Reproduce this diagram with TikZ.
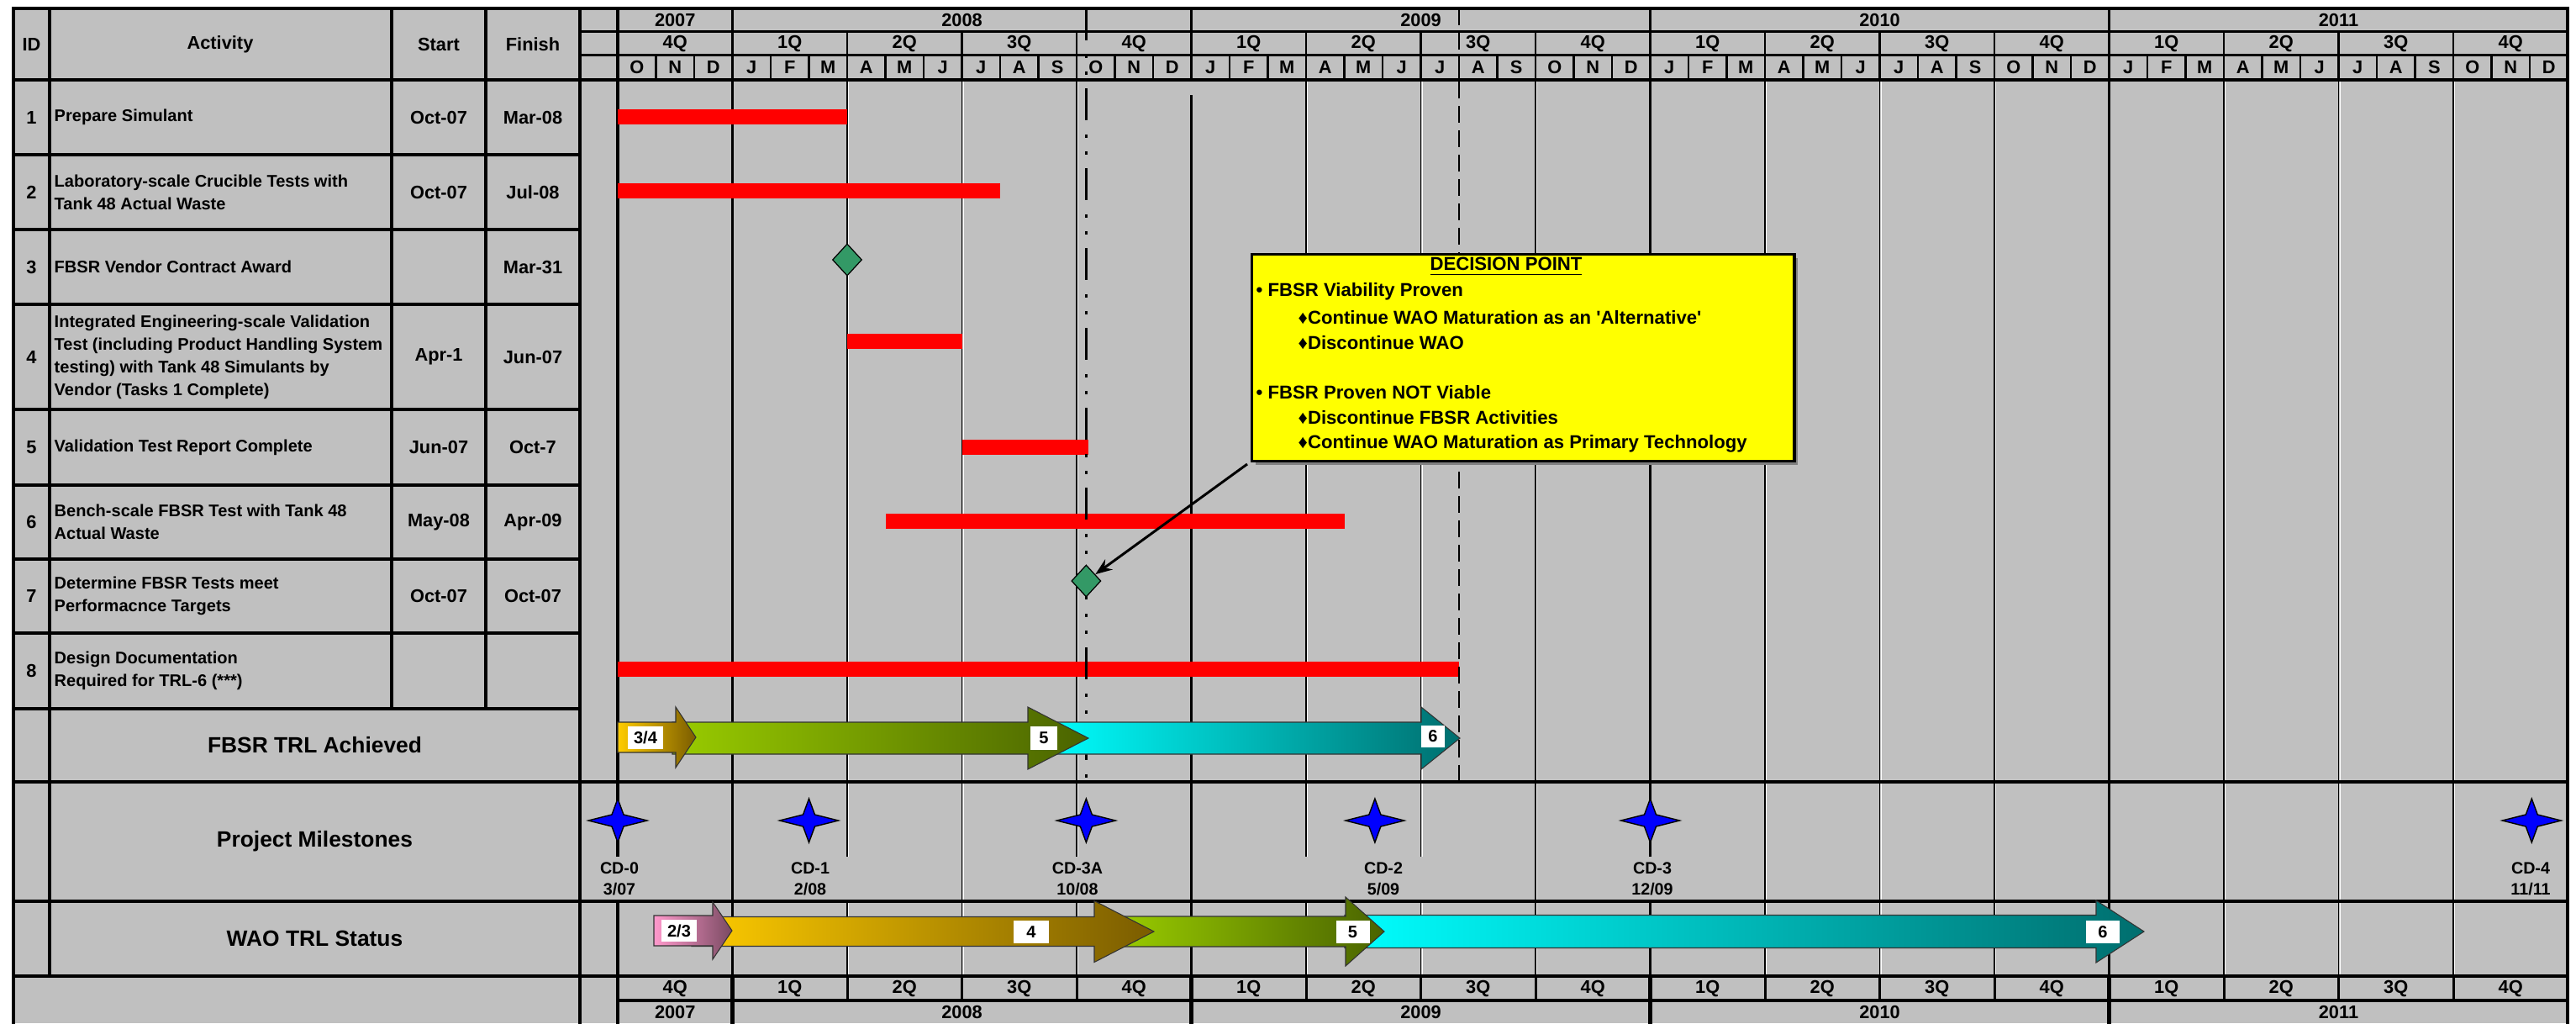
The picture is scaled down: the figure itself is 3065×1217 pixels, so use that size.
\documentclass[tikz,border=0pt]{standalone}
\usepackage{fontspec}
\setmainfont{Liberation Sans}[Ligatures=TeXOff]
\usetikzlibrary{shapes.geometric,arrows.meta}
\definecolor{chartgray}{HTML}{C0C0C0}
\definecolor{barred}{HTML}{FF0000}
\definecolor{msgreen}{HTML}{339966}
\definecolor{starblue}{HTML}{0000FF}
\definecolor{dpyellow}{HTML}{FFFF00}
\definecolor{dpshadow}{HTML}{808080}
\definecolor{trlgold}{HTML}{FFCC00}
\definecolor{trlbrown}{HTML}{7A5C00}
\definecolor{trlgreen}{HTML}{99CC00}
\definecolor{trlolive}{HTML}{4A6300}
\definecolor{trlcyan}{HTML}{00FFFF}
\definecolor{trlteal}{HTML}{006E6E}
\definecolor{trlpink}{HTML}{FF99CC}
\definecolor{trlmauve}{HTML}{7A4A62}
\newcommand\ChartX{735}
\newcommand\MonW{45.5}
% #1 start, #2 head base, #3 tip, #4 centre, #5 half body, #6 half head
\newcommand\TrlArrow[8]{%
  \shade[trlshape, left color=#7, right color=#8]
    (#1,#4-#5) -- (#2,#4-#5) -- (#2,#4-#6) -- (#3,#4)
    -- (#2,#4+#6) -- (#2,#4+#5) -- (#1,#4+#5) -- cycle;
}
\tikzset{
  heavy/.style={line width=1.15pt, line cap=rect},
  headline/.style={line width=0.9pt},
  yearline/.style={line width=0.85pt},
  monthline/.style={line width=0.65pt},
  qline/.style={line width=0.35pt},
  qglint/.style={white, line width=0.25pt},
  cell/.style={font=\fontsize{6.2}{7.5}\selectfont\bfseries, inner sep=0pt},
  activity/.style={font=\fontsize{5.7}{7.7}\selectfont\bfseries, align=left, anchor=west, inner sep=0pt},
  rowlabel/.style={font=\fontsize{7.5}{9}\selectfont\bfseries, inner sep=0pt},
  cdlabel/.style={font=\fontsize{5.6}{7.1}\selectfont\bfseries, align=center, fill=chartgray,
    minimum width=1.5cm, minimum height=0.53cm, inner sep=0pt},
  trllabel/.style={font=\fontsize{5.7}{7}\selectfont\bfseries, fill=white, inner sep=0pt,
    minimum width=0.41cm, minimum height=0.27cm},
  trlshape/.style={draw=black!80, line width=0.3pt},
  taskbar/.style={fill=barred},
  milestone/.style={shape=diamond, draw, fill=msgreen, line width=0.35pt, inner sep=0pt,
    minimum width=0.35cm, minimum height=0.38cm},
  dpline/.style={line width=1pt, dash pattern=on 0.38cm off 0.17cm on 0.04cm off 0.16cm on 0.04cm off 0.16cm},
  trlline/.style={line width=0.55pt, dash pattern=on 0.2cm off 0.09cm},
  decisionbox/.style={draw, fill=dpyellow, line width=0.9pt, inner sep=0pt},
  dtext/.style={font=\fontsize{6.3}{8.5}\selectfont\bfseries, anchor=west, inner sep=0pt},
  callarrow/.style={line width=0.85pt, -{Stealth[length=0.2cm,width=0.15cm]}},
  starline/.style={draw, fill=starblue, line width=0.4pt},
  milestar/.pic={
    \draw[starline] (-35,0) -- (-7,-7) -- (0,-26) -- (7,-7) -- (35,0) -- (7,7) -- (0,26) -- (-7,7) -- cycle;
  },
}

\begin{document}
\begin{tikzpicture}[x=0.01cm,y=-0.01cm]
\useasboundingbox (0,0) rectangle (3065,1217);
\fill[chartgray] (16,10) rectangle (3055,1217);

% chart grid
\foreach \k in {6,9,12,18,21,24,30,33,36,42,45,48}{
  \draw[qglint] ({\ChartX+\k*\MonW+1.8},95) -- ++(0,1066);
  \draw[qline] ({\ChartX+\k*\MonW},95) -- ++(0,1066);
}
\foreach \k in {3,27,39}
  \draw[yearline] ({\ChartX+\k*\MonW},95) -- ++(0,1066);
\draw[yearline] ({\ChartX+15*\MonW},113) -- ++(0,1048);
\foreach \x in {16,690,735,3055}
  \draw[heavy] (\x,10) -- (\x,1217);
\foreach \x in {466,578}
  \draw[heavy] (\x,10) -- (\x,843);
\draw[heavy] (59,10) -- (59,1161);

% milestones
\foreach \k/\n in {0/0, 5/1, 12.25/3a, 19.8/2, 27/3, 50.05/4}
  \pic (star-\n) at ({\ChartX+\k*\MonW},976) {milestar};
\node[cdlabel, minimum width=0.8cm] (cd0) at (737,1045.5) {CD-0\\3/07};
\node[cdlabel] (cd1) at (964,1045.5) {CD-1\\2/08};
\node[cdlabel] (cd3a) at (1282,1045.5) {CD-3A\\10/08};
\node[cdlabel, minimum width=2cm] (cd2) at (1646,1045.5) {CD-2\\5/09};
\node[cdlabel] (cd3) at (1966,1045.5) {CD-3\\12/09};
\node[cdlabel, minimum width=0.8cm] (cd4) at (3011,1045.5) {CD-4\\11/11};

% horizontal rules
\foreach \y in {184,273,362,487,577,665,753,843}
  \draw[heavy] (16,\y) -- (690,\y);
\foreach \y in {10,95,930,1072,1161}
  \draw[heavy] (16,\y) -- (3055,\y);
\draw[heavy] (735,1190) -- (3055,1190);
\foreach \y in {37.7,65.7}
  \draw[headline] (690,\y) -- (3055,\y);

% time scale separators
\foreach \k in {1,...,50}
  \draw[monthline] ({\ChartX+\k*\MonW},65.7) -- ++(0,29.3);
\foreach \k in {6,9,12,18,21,24,30,33,36,42,45,48}{
  \draw[monthline] ({\ChartX+\k*\MonW},37.7) -- ++(0,28);
  \draw[yearline] ({\ChartX+\k*\MonW},1161) -- ++(0,29);
}
\foreach \k in {3,15,27,39}{
  \draw[yearline] ({\ChartX+\k*\MonW},10) -- ++(0,85);
  \draw[heavy] ({\ChartX+\k*\MonW},1161) -- ++(0,56);
}

% table header
\node[cell] (h-id) at (37.5,52.5) {ID};
\node[cell] (h-act) at (262,52.5) {Activity};
\node[cell] (h-start) at (522,52.5) {Start};
\node[cell] (h-fin) at (634,52.5) {Finish};

% time scale labels
\node[cell] (yr-2007) at ({\ChartX+1.5*\MonW},24) {2007};
\node[cell] (yrb-2007) at ({\ChartX+1.5*\MonW},1204) {2007};
\node[cell] (q-2007) at ({\ChartX+1.5*\MonW},52) {4Q};
\node[cell] (qb-2007) at ({\ChartX+1.5*\MonW},1176) {4Q};
\foreach \m [count=\j from 0] in {O,N,D}
  \node[cell] (m-2007-\j) at ({\ChartX+(0.5+\j)*\MonW},80) {\m};
\foreach \yr [count=\i from 0] in {2008,2009,2010,2011}{
  \node[cell] (yr-\yr) at ({\ChartX+(9+12*\i)*\MonW},24) {\yr};
  \node[cell] (yrb-\yr) at ({\ChartX+(9+12*\i)*\MonW},1204) {\yr};
  \foreach \q in {1,...,4}{
    \node[cell] (q-\yr-\q) at ({\ChartX+(1.5+12*\i+3*\q)*\MonW},52) {\q Q};
    \node[cell] (qb-\yr-\q) at ({\ChartX+(1.5+12*\i+3*\q)*\MonW},1176) {\q Q};
  }
  \foreach \m [count=\j from 0] in {J,F,M,A,M,J,J,A,S,O,N,D}
    \node[cell] (m-\yr-\j) at ({\ChartX+(3.5+12*\i+\j)*\MonW},80) {\m};
}

% activities
\foreach \n/\y/\task/\st/\fin in {
  1/139.5/{Prepare Simulant}/Oct-07/Mar-08,
  2/228.5/{Laboratory-scale Crucible Tests with\\Tank 48 Actual Waste}/Oct-07/Jul-08,
  3/317.5/{FBSR Vendor Contract Award}/{}/Mar-31,
  4/424.5/{Integrated Engineering-scale Validation\\Test (including Product Handling System\\testing) with Tank 48 Simulants by\\Vendor (Tasks 1 Complete)}/Apr-1/Jun-07,
  5/532/{Validation Test Report Complete}/Jun-07/Oct-7,
  6/621/{Bench-scale FBSR Test with Tank 48\\Actual Waste}/May-08/Apr-09,
  7/709/{Determine FBSR Tests meet\\Performacnce Targets}/Oct-07/Oct-07,
  8/798/{Design Documentation\\Required for TRL-6 (***)}/{}/{}}{
  \node[cell] (id-\n) at (37.5,\y) {\n};
  \node[activity] (act-\n) at (64,\y) {\task};
  \node[cell] (st-\n) at (522,\y) {\st};
  \node[cell] (fin-\n) at (634,\y) {\fin};
}
\node[rowlabel] (fbsr-trl) at (374.5,886.5) {FBSR TRL Achieved};
\node[rowlabel] (proj-ms) at (374.5,1001) {Project Milestones};
\node[rowlabel] (wao-trl) at (374.5,1116.5) {WAO TRL Status};

% task bars
\foreach \a/\b/\y in {0/6/139, 0/10/227, 6/9/406, 9/12.3/532, 7/19/620, 0/22/796}
  \fill[taskbar] ({\ChartX+\a*\MonW},\y-9) rectangle ({\ChartX+\b*\MonW},\y+9);

\draw[dpline] ({\ChartX+12.25*\MonW},10) -- ++(0,920);
\draw[trlline] ({\ChartX+22*\MonW},10) -- ++(0,920);

\node[milestone] (ms3) at ({\ChartX+6*\MonW},309) {};
\node[milestone] (ms7) at ({\ChartX+12.25*\MonW},691) {};

% FBSR TRL
\TrlArrow{1240}{1691}{1737}{878}{19}{37}{trlcyan}{trlteal}
\TrlArrow{800}{1223}{1295}{878}{19}{37}{trlgreen}{trlolive}
\TrlArrow{735}{804}{828}{877}{18}{36}{trlgold}{trlbrown}
\node[trllabel] (fbsr-34) at (768,877) {3/4};
\node[trllabel, minimum width=0.32cm, minimum height=0.28cm] (fbsr-5) at (1242,878) {5};
\node[trllabel, minimum width=0.28cm, minimum height=0.26cm] (fbsr-6) at (1705,876) {6};

% WAO TRL
\TrlArrow{1600}{2494}{2551}{1108}{19.5}{37}{trlcyan}{trlteal}
\TrlArrow{1330}{1601}{1647}{1108}{18}{41}{trlgreen}{trlolive}
\TrlArrow{823}{1302}{1373}{1108}{17.5}{36.5}{trlgold}{trlbrown}
\TrlArrow{778}{848}{871}{1107}{18}{34}{trlpink}{trlmauve}
\node[trllabel, minimum height=0.26cm] (wao-23) at (808,1107) {2/3};
\node[trllabel] (wao-4) at (1227,1108.5) {4};
\node[trllabel, minimum width=0.40cm] (wao-5) at (1609.5,1108.5) {5};
\node[trllabel, minimum width=0.40cm] (wao-6) at (2502,1108.5) {6};

% decision point
\fill[dpshadow] (1494,307) rectangle (2139,553);
\node[decisionbox, anchor=north west, minimum width=6.45cm, minimum height=2.46cm] (decision) at (1488,301) {};
\node[dtext, anchor=center] (dp-title) at (1792,317) {\underline{DECISION POINT}};
\node[dtext] (dp-1) at (1494,347) {• FBSR Viability Proven};
\node[dtext] (dp-2) at (1544,378) {♦Continue WAO Maturation as an 'Alternative'};
\node[dtext] (dp-3) at (1544,408) {♦Discontinue WAO};
\node[dtext] (dp-4) at (1494,467) {• FBSR Proven NOT Viable};
\node[dtext] (dp-5) at (1544,497) {♦Discontinue FBSR Activities};
\node[dtext] (dp-6) at (1544,528) {♦Continue WAO Maturation as Primary Technology};
\coordinate (callout) at (1484,552);
\draw[callarrow] (callout) -- (ms7);
\end{tikzpicture}
\end{document}
